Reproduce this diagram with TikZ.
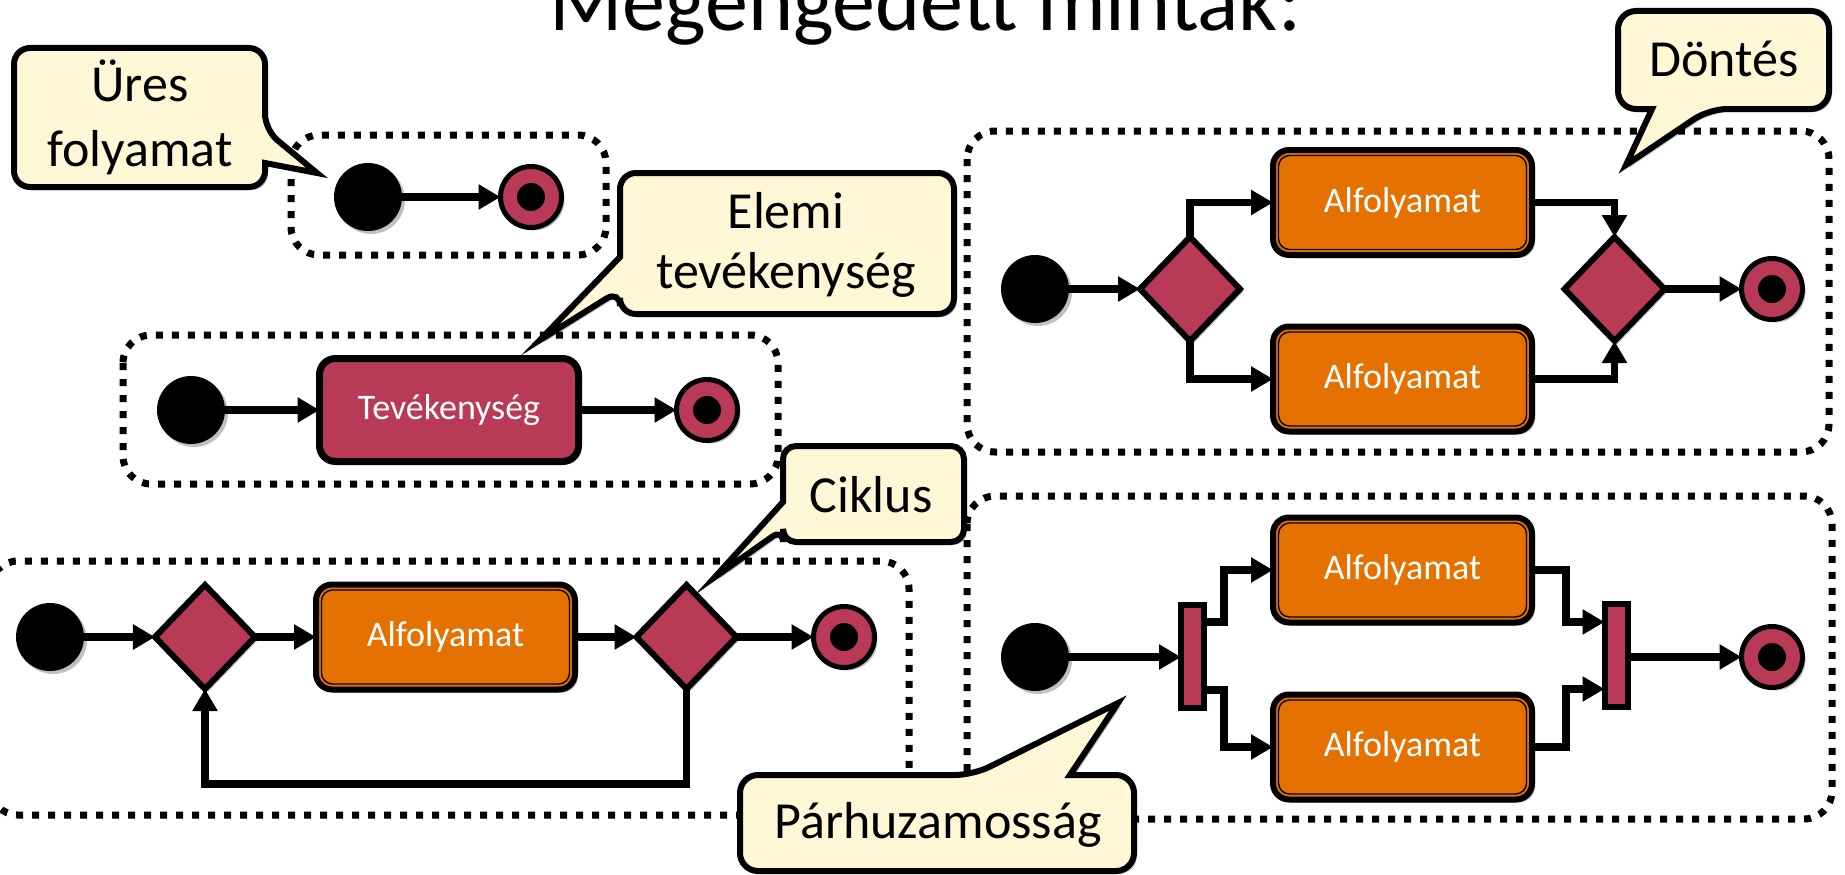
\documentclass[tikz,border=0pt]{standalone}
\usepackage{fontspec}
\setmainfont{Carlito}
\usetikzlibrary{shapes.geometric,arrows.meta,calc,shadows}
\definecolor{crim}{RGB}{185,58,86}
\definecolor{orng}{RGB}{229,114,0}
\definecolor{note}{RGB}{255,247,213}
\newcommand\innerrim[1]{\draw[black,line width=1.4pt,rounded corners=11pt] ($(#1.north west)+(5.5,5.5)$) rectangle ($(#1.south east)+(-5.5,-5.5)$);}
\begin{document}
\begin{tikzpicture}[x=1pt,y=-1pt,
 shd/.style={drop shadow={shadow xshift=3pt,shadow yshift=-3pt,opacity=0.25,fill=black}},
 startn/.style={circle,fill=black,minimum size=68pt,inner sep=0pt,outer sep=0pt,shd},
 endn/.style={circle,draw=black,line width=5pt,fill=crim,minimum size=61pt,inner sep=0pt,outer sep=0pt,shd,path picture={\fill[black] (path picture bounding box.center) circle (14pt);}},
 diam/.style={diamond,draw=black,line width=6pt,fill=crim,minimum width=100pt,minimum height=104pt,inner sep=0pt,outer sep=0pt,shd},
 forkbar/.style={rectangle,draw=black,line width=6pt,fill=crim,minimum width=23pt,minimum height=103pt,inner sep=0pt,outer sep=0pt,shd},
 proc/.style={rectangle,rounded corners=16pt,draw=black,line width=6pt,fill=orng,minimum width=259pt,minimum height=105pt,inner sep=0pt,outer sep=0pt,text=white,font=\fontsize{36}{40}\selectfont,shd},
 act/.style={proc,fill=crim,line width=7pt,minimum height=103pt},
 arr/.style={line width=7.5pt,-{Triangle[length=22pt,width=24pt]}},
 dotb/.style={line width=7pt,dash pattern=on 7pt off 9pt,rounded corners=28pt},
 call/.style={draw=black,line width=6pt,fill=note,shd},
 ctext/.style={anchor=base,inner sep=0pt,font=\fontsize{52}{60}\selectfont}
]
\useasboundingbox (0,0) rectangle (1845,875);

% dotted frames
\draw[dotb] (291,135) rectangle (606,255);
\draw[dotb] (123,335) rectangle (778,484);
\draw[dotb] (-10,561) rectangle (909,815);
\draw[dotb] (967,131) rectangle (1829,452);
\draw[dotb] (967,496) rectangle (1832,819);

% title
\node[anchor=base,inner sep=0pt,font=\fontsize{86}{92}\selectfont] (title) at (925,31) {Megengedett minták:};

% empty process
\node[startn] (s1) at (368,197) {};
\node[endn] (e1) at (531,197) {};
\draw[arr] (s1) -- (e1);

% elementary activity
\node[startn] (s2) at (191,410) {};
\node[act] (act) at (449,410) {Tevékenység};
\node[endn] (e2) at (707,410) {};
\draw[arr] (s2) -- (act);
\draw[arr] (act) -- (e2);

% loop
\node[startn] (s3) at (50,637) {};
\node[diam] (d31) at (205,637) {};
\node[proc] (p3) at (445.5,637) {Alfolyamat};
\innerrim{p3}
\node[diam] (d32) at (686.5,637) {};
\node[endn] (e3) at (844,637) {};
\draw[arr] (s3) -- (d31);
\draw[arr] (d31) -- (p3);
\draw[arr] (p3) -- (d32);
\draw[arr] (d32) -- (e3);
\draw[arr] (d32.south) -- ++(0,95) -| (d31.south);

% decision
\node[startn] (s4) at (1035,289) {};
\node[diam] (d41) at (1190,289) {};
\node[proc] (p41) at (1402.5,202.5) {Alfolyamat};
\innerrim{p41}
\node[proc] (p42) at (1402.5,379) {Alfolyamat};
\innerrim{p42}
\node[diam] (d42) at (1614.5,289) {};
\node[endn] (e4) at (1772,289) {};
\draw[arr] (s4) -- (d41);
\draw[arr] (d41.north) |- (p41.west);
\draw[arr] (d41.south) |- (p42.west);
\draw[arr] (p41.east) -| (d42.north);
\draw[arr] (p42.east) -| (d42.south);
\draw[arr] (d42) -- (e4);

% parallel
\node[startn] (s5) at (1035,657) {};
\node[forkbar] (b51) at (1192.5,656) {};
\node[proc] (p51) at (1402.5,570) {Alfolyamat};
\innerrim{p51}
\node[proc] (p52) at (1402.5,747) {Alfolyamat};
\innerrim{p52}
\node[forkbar] (b52) at (1616,655) {};
\node[endn] (e5) at (1772,657) {};
\draw[arr] (s5) -- (s5 -| b51.west);
\draw[arr] ($(b51.east)+(0,-34)$) -- ++(20,0) |- (p51.west);
\draw[arr] ($(b51.east)+(0,34)$) -- ++(20,0) |- (p52.west);
\draw[arr] (p51.east) -- ++(34,0) |- ($(b52.west)+(0,-33)$);
\draw[arr] (p52.east) -- ++(34,0) |- ($(b52.west)+(0,34)$);
\draw[arr] (b52.east |- e5) -- (e5);

% callouts
\draw[call] (140,48) [rounded corners=16pt] -- (265,48) -- (265,130) [sharp corners] -- (317,173) -- (265,163) [rounded corners=16pt] -- (265,187) -- (14,187) -- (14,48) -- cycle;
\node[ctext] (t1a) at (140,102) {Üres};
\node[ctext] (t1b) at (140,166) {folyamat};

\draw[call] (785,173) [rounded corners=16pt] -- (954,173) -- (954,314) -- (620,314) -- (620,290) [sharp corners] -- (540,340) -- (620,257) [rounded corners=16pt] -- (620,173) -- cycle;
\node[ctext] (t2a) at (786,228) {Elemi};
\node[ctext] (t2b) at (786,288) {tevékenység};

\draw[call] (873,446) [rounded corners=13pt] -- (964,446) -- (964,542) -- (783,542) -- (783,529) [sharp corners] -- (715,577) -- (783,502) [rounded corners=13pt] -- (783,446) -- cycle;
\node[ctext] (t3) at (871,512) {Ciklus};

\draw[call] (1723,11) [rounded corners=18pt] -- (1829,11) -- (1829,109) -- (1709,109) [sharp corners] -- (1626,165) -- (1652,109) [rounded corners=18pt] -- (1618,109) -- (1618,11) -- cycle;
\node[ctext] (t4) at (1724,77) {Döntés};

\draw[call] (740,823) [rounded corners=18pt] -- (740,775) -- (973,775) [sharp corners] -- (1118,703) -- (1070,775) [rounded corners=18pt] -- (1134,775) -- (1134,871) -- (740,871) -- cycle;
\node[ctext] (t5) at (938,838) {Párhuzamosság};
\end{tikzpicture}
\end{document}
